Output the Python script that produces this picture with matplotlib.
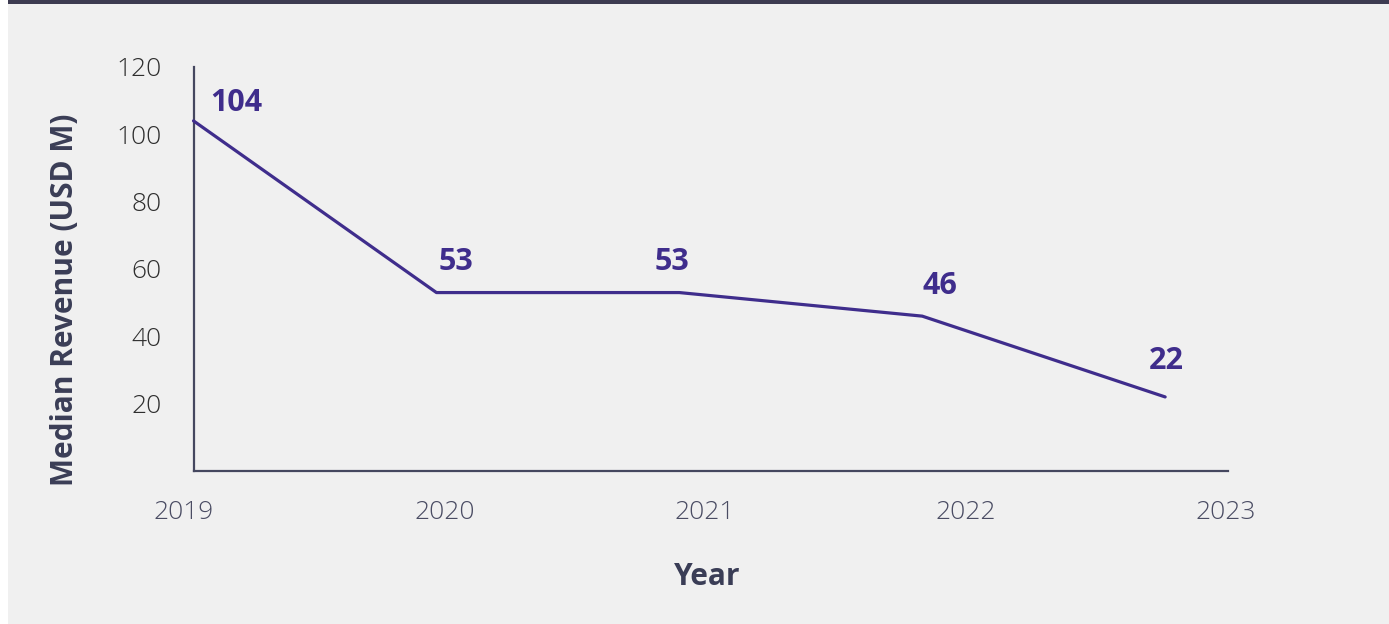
import numpy as np
import matplotlib
matplotlib.use("Agg")
import matplotlib.pyplot as plt
from matplotlib.patches import Rectangle

# chart data
years = ["2019", "2020", "2021", "2022", "2023"]
revenue = [104, 53, 53, 46, 22]
yTicks = [20, 40, 60, 80, 100, 120]

# label offsets in points (dx, dy) from each data point
labelOffsets = [(31, 13), (14, 22), (-5, 22), (13, 22), (1, 26)]

lineColor = "#3f2d8c"
axisColor = "#45475f"
textDark = "#3a3d56"

plt.rcParams["font.family"] = ["Open Sans", "DejaVu Sans"]

fig = plt.figure(figsize=(13.89, 6.24), dpi=100)
fig.patch.set_facecolor("white")

# grey panel and dark strip on top
fig.add_artist(Rectangle((8 / 1389, 0), 1, 1, transform=fig.transFigure,
                         facecolor="#f0f0f0", edgecolor="none", zorder=0))
fig.add_artist(Rectangle((8 / 1389, 1 - 4 / 624), 1, 4 / 624, transform=fig.transFigure,
                         facecolor="#3d3b51", edgecolor="none", zorder=1))

ax = fig.add_axes([183.8 / 1389, 1 - 471 / 624, 1044.5 / 1389, 404 / 624])
ax.set_facecolor("none")

xPos = np.arange(len(years))
xMax = 4.26
ax.plot(xPos, revenue, color=lineColor, lw=2.3, solid_capstyle="round", zorder=3)

for x, v, (dx, dy) in zip(xPos, revenue, labelOffsets):
    ax.annotate(str(v), (x, v), xytext=(dx, dy), textcoords="offset points",
                ha="center", va="center", fontsize=22, fontweight="bold",
                color=lineColor)

ax.set_xlim(-0.04, xMax)
ax.set_ylim(0, 120)

ax.spines["top"].set_visible(False)
ax.spines["right"].set_visible(False)
ax.spines["left"].set_position(("data", 0))
ax.spines["bottom"].set_bounds(0, xMax)
for s in ["left", "bottom"]:
    ax.spines[s].set_color(axisColor)
    ax.spines[s].set_linewidth(1.6)

ax.set_xticks(np.linspace(-0.04, 4.25, len(years)))
ax.set_xticklabels(years)
ax.set_yticks(yTicks)
ax.set_yticklabels([str(t) for t in yTicks])
ax.tick_params(axis="x", length=0, pad=21, labelsize=19, labelcolor="#4a4c63")
ax.tick_params(axis="y", length=0, pad=23, labelsize=19, labelcolor="#2e2e2e")
for lbl in ax.get_xticklabels() + ax.get_yticklabels():
    lbl.set_fontweight("light")

fig.text(65 / 1389, 1 - 300 / 624, "Median Revenue (USD M)", rotation=90,
         ha="center", va="center", fontsize=21.5, fontweight="bold", color=textDark)
fig.text(707 / 1389, 1 - 577 / 624, "Year", ha="center", va="center",
         fontsize=21.5, fontweight="bold", color=textDark)

fig.savefig("out.png", dpi=100, facecolor=fig.get_facecolor())
